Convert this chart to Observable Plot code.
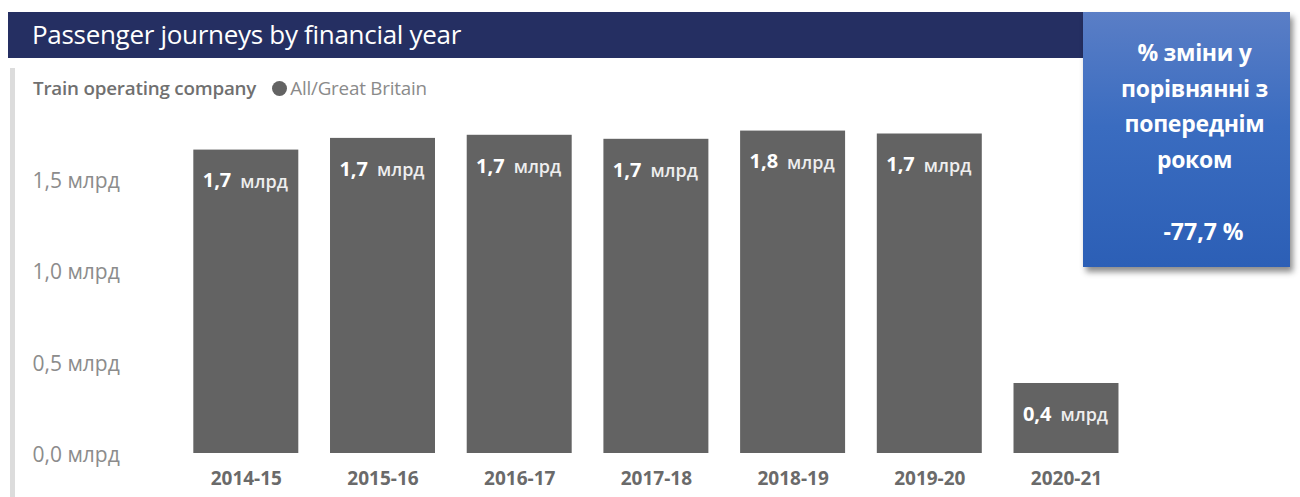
<!DOCTYPE html>
<html>
<head>
<meta charset="utf-8">
<script src="https://cdn.jsdelivr.net/npm/d3@7"></script>
<script src="https://cdn.jsdelivr.net/npm/@observablehq/plot@0.6"></script>
<style>
  html, body { margin: 0; padding: 0; background: #fff; width: 1300px; height: 497px; overflow: hidden; font-family: "Open Sans", "Noto Sans", sans-serif; }
  #wrap { position: relative; width: 1300px; height: 497px; }
  #titlebar { position: absolute; left: 8px; top: 12px; width: 1095px; height: 46px; background: #252f62; }
  #title { position: absolute; left: 32px; top: 12px; height: 46px; line-height: 44px; color: #fff; font-size: 26px; letter-spacing: -0.3px; white-space: nowrap; }
  #vline { position: absolute; left: 10px; top: 68px; width: 5px; height: 429px; background: #dcdcdc; }
  #legend { position: absolute; left: 33px; top: 76px; height: 24px; font-size: 18.8px; color: #6e6e6e; display: flex; align-items: center; white-space: nowrap; letter-spacing: -0.2px; }
  #legend .ttl { font-weight: 600; color: #707070; margin-right: 16px; }
  #legend .dot { width: 15px; height: 15px; border-radius: 50%; background: #636363; margin-right: 3px; }
  #legend .item { color: #8a8a8a; }
  #chart { position: absolute; left: 0; top: 60px; }
  #card { position: absolute; left: 1083px; top: 12px; width: 207px; height: 255px; background: linear-gradient(180deg, #5a7ec6 0%, #3a6cc0 45%, #2c5fb6 100%); box-shadow: 3px 5px 6px rgba(0,0,0,0.45); color: #fff; font-weight: 700; text-align: center; }
  #card .hdr { position: absolute; left: 16px; right: 0; top: 23px; font-size: 23px; line-height: 35.5px; letter-spacing: -0.3px; }
  #card .val { position: absolute; left: 34px; right: 0; top: 201px; font-size: 23px; line-height: 36px; }
</style>
</head>
<body>
<div id="wrap">
  <div id="titlebar"></div>
  <div id="title"></div>
  <div id="vline"></div>
  <div id="legend"></div>
  <div id="chart"></div>
  <div id="card"></div>
</div>
<script>
const titleText = "Passenger journeys by financial year";
const legendTitle = "Train operating company";
const legendItem = "All/Great Britain";
const years = ["2014-15", "2015-16", "2016-17", "2017-18", "2018-19", "2019-20", "2020-21"];
const journeys = [1.660, 1.724, 1.741, 1.719, 1.764, 1.748, 0.383];
const yTicks = [0, 0.5, 1.0, 1.5];
const unit = "млрд";
const cardLines = ["% зміни у", "порівнянні з", "попереднім", "роком"];
const cardValue = "-77,7 %";

document.getElementById("title").textContent = titleText;
document.getElementById("legend").innerHTML =
  `<span class="ttl"></span><span class="dot"></span><span class="item"></span>`;
document.querySelector("#legend .ttl").textContent = legendTitle;
document.querySelector("#legend .item").textContent = legendItem;
const card = document.getElementById("card");
const hdr = document.createElement("div"); hdr.className = "hdr";
hdr.innerHTML = cardLines.map(s => s.replace(/&/g, "&amp;")).join("<br>");
const val = document.createElement("div"); val.className = "val"; val.textContent = cardValue;
card.appendChild(hdr); card.appendChild(val);

const data = years.map((y, i) => ({year: y, value: journeys[i]}));
const fmt = v => d3.format(".1f")(v).replace(".", ",");

const chart = Plot.plot({
  width: 1300,
  height: 437,
  marginLeft: 161.6,
  marginRight: 149.8,
  marginTop: 64,
  marginBottom: 44,
  style: {fontFamily: "'Open Sans', 'Noto Sans', sans-serif", background: "transparent", overflow: "visible"},
  x: {domain: years, padding: 0.232, round: false, label: null},
  y: {domain: [0, 1.8], label: null},
  marks: [
    Plot.barY(data, {x: "year", y: "value", fill: "#636363"}),
    Plot.text(data, {x: "year", y: "value", text: d => fmt(d.value), textAnchor: "end", dx: -15, dy: 31, fill: "#fff", fontWeight: 700, fontSize: 20}),
    Plot.text(data, {x: "year", y: "value", text: () => unit, textAnchor: "start", dx: -6, dy: 32, fill: "#eeeeee", fontWeight: 600, fontSize: 18, letterSpacing: -0.3}),
    Plot.axisY(yTicks, {tickSize: 0, textAnchor: "start", dx: -120.6, dy: 2, fontSize: 21, fill: "#8c8c8c", tickFormat: v => fmt(v) + " " + unit}),
    Plot.axisX({tickSize: 0, tickPadding: 18, fontSize: 19, fontWeight: 700, fill: "#6a6a6a", label: null})
  ]
});
document.getElementById("chart").appendChild(chart);
</script>
</body>
</html>
